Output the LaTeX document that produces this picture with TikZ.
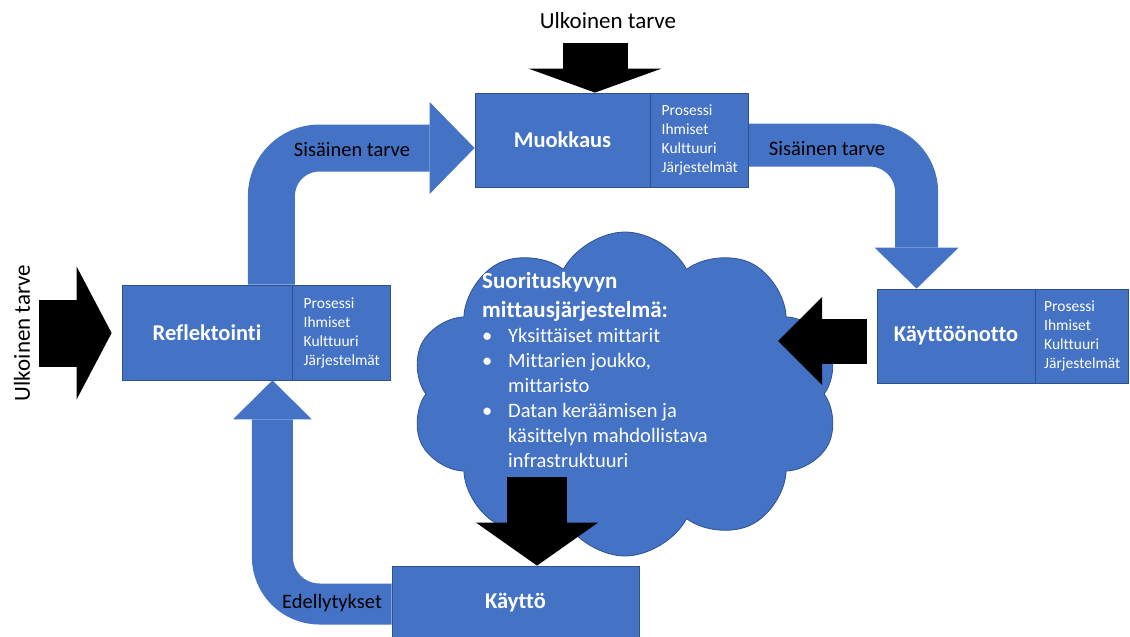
\documentclass[tikz,border=0pt]{standalone}
\usepackage{fontspec}
\setmainfont[Ligatures=NoCommon]{Carlito}
\usetikzlibrary{shapes.symbols, arrows.meta, positioning, calc}
\definecolor{boxblue}{HTML}{4472C4}
\definecolor{boxedge}{HTML}{2F528F}
\tikzstyle{phase} = [
  rectangle,
  minimum height=94pt,
  text centered,
  draw=boxedge,
  line width=0.8pt,
  fill=boxblue,
  text=white,
  font=\fontsize{22.5}{27}\selectfont\bfseries
]
\tikzstyle{aspects} = [
  rectangle,
  minimum width=98pt,
  minimum height=94pt,
  align=left,
  draw=boxedge,
  line width=0.8pt,
  fill=boxblue,
  text=white,
  font=\fontsize{15.5}{19}\selectfont
]
\tikzstyle{need} = [font=\fontsize{23}{28}\selectfont]
\tikzstyle{flowlabel} = [font=\fontsize{20.5}{25}\selectfont]
\tikzstyle{cloudhead} = [align=left, inner sep=0pt, text=white, font=\fontsize{23}{29}\selectfont\bfseries]
\tikzstyle{cloudbody} = [align=left, inner sep=0pt, text=white, font=\fontsize{20.5}{25}\selectfont]
\tikzstyle{bentarrow} = [draw=boxblue]
\tikzstyle{pusharrow} = [draw=black]
\newcommand{\aspectlist}{Prosessi\\Ihmiset\\Kulttuuri\\Järjestelmät}
\newcommand{\bul}{\makebox[26pt][l]{•}}

\begin{document}
\begin{tikzpicture}[x=1pt, y=-1pt]
    \useasboundingbox (0,0) rectangle (1130,637);
    \clip (0,0) rectangle (1130,637);

    % measurement system cloud
    \node (system) [cloud, cloud puffs=10, cloud puff arc=125, aspect=1.33,
      shape border rotate=8,
      minimum width=428pt, minimum height=324pt,
      fill=boxblue, draw=boxedge, line width=0.8pt] at (625,394) {};
    \node (syshead) [cloudhead, anchor=north west] at (482,272) {Suorituskyvyn\\mittausjärjestelmä:};
    \node (syslist) [cloudbody, below=7pt of syshead.south west, anchor=north west]
      {\bul Yksittäiset mittarit\\\bul Mittarien joukko,\\\hspace*{26pt}mittaristo\\
       \bul Datan keräämisen ja\\\hspace*{26pt}käsittelyn mahdollistava\\\hspace*{26pt}infrastruktuuri};

    % phases
    \node (muok) [phase, minimum width=175pt] at (562.5,140) {Muokkaus};
    \node (muoklist) [aspects, right=0pt of muok] {\aspectlist};
    \node (refl) [phase, minimum width=170pt, minimum height=95pt] at (207,332.5) {Reflektointi};
    \node (refllist) [aspects, minimum height=95pt, right=0pt of refl] {\aspectlist};
    \node (kayt) [phase, minimum width=158pt] at (956,336) {Käyttöönotto};
    \node (kaytlist) [aspects, minimum width=93pt, right=0pt of kayt] {\aspectlist};
    \node (kaytto) [phase, minimum width=247pt, minimum height=74pt] at (515.5,603) {Käyttö};

    % internal flow
    \draw [bentarrow, line width=47pt, rounded corners=48pt,
      -{Triangle[length=45pt, width=92pt, line width=0pt]}]
      ($(refl.north east)+(-21,0)$) |- (muok.west |- 0,148);
    \draw [bentarrow, line width=43pt, rounded corners=47pt,
      -{Triangle[length=41pt, width=84pt, line width=0pt]}]
      (muoklist.east |- 0,145) -| ($(kayt.north west)+(40,0)$);
    \draw [bentarrow, line width=41pt, rounded corners=47pt,
      -{Triangle[length=39pt, width=79pt, line width=0pt]}]
      (kaytto.west |- 0,604) -| ($(refl.south east)+(-20,0)$);
    \node (int1) [flowlabel] at (352,150) {Sisäinen tarve};
    \node (int2) [flowlabel] at (827,149) {Sisäinen tarve};
    \node (prereq) [flowlabel] at (332,603) {Edellytykset};

    % external needs and data flow
    \coordinate (topin) at (595,43);
    \coordinate (leftin) at (39,333);
    \coordinate (sysin) at (778,341);
    \coordinate (sysout) at (537,477);
    \draw [pusharrow, line width=65pt, -{Triangle[length=24pt, width=133pt, line width=0pt]}]
      (topin) -- (topin |- muok.north);
    \draw [pusharrow, line width=67pt, -{Triangle[length=35pt, width=133pt, line width=0pt]}]
      (leftin) -- ($(leftin -| refl.west)+(-10,0)$);
    \draw [pusharrow, line width=45pt, -{Triangle[length=44pt, width=88pt, line width=0pt]}]
      ($(kayt.west |- 0,341)+(-10,0)$) -- (sysin);
    \draw [pusharrow, line width=60pt, -{Triangle[length=43pt, width=122pt, line width=0pt]}]
      (sysout) -- (sysout |- kaytto.north);
    \node (ext1) [need] at (608,21) {Ulkoinen tarve};
    \node (ext2) [need, rotate=90] at (22,333) {Ulkoinen tarve};
  \end{tikzpicture}
\end{document}
